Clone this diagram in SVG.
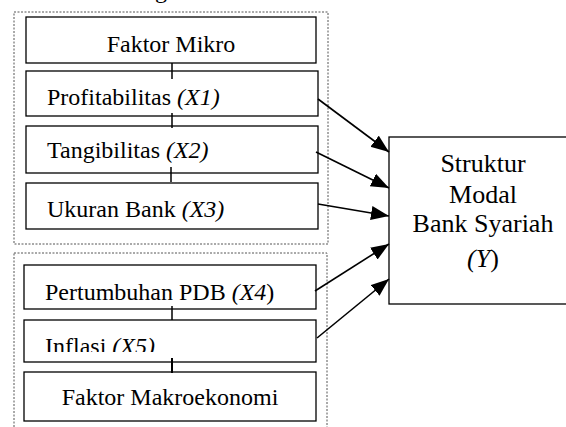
<svg xmlns="http://www.w3.org/2000/svg" width="566" height="427" viewBox="0 0 566 427">
<style>
.grp{fill:none;stroke:#555;stroke-width:1;stroke-dasharray:2,1.5}
.box{fill:#fff;stroke:#000;stroke-width:1.3}
.t{font-size:24px;fill:#000}
.ty{font-size:26px;fill:#000;text-anchor:middle}
.i{font-style:italic}
.tick{stroke:#000;stroke-width:1.5}
.arr{stroke:#000;stroke-width:1.6;fill:none;marker-end:url(#ah)}
</style>
<defs>
<marker id="ah" markerUnits="userSpaceOnUse" markerWidth="20" markerHeight="16" refX="18" refY="7" orient="auto">
<path d="M0,0 L18,7 L0,14 Z" fill="#000"/>
</marker>
<clipPath id="clipInf"><rect x="24" y="320" width="292" height="32"/></clipPath>
</defs>
<rect width="566" height="427" fill="#fff"/>
<g font-family="'Liberation Serif', 'Times New Roman', 'DejaVu Serif', serif">
<text class="t" x="155" y="-2.5">g</text>
<g id="mikro-group">
<rect class="grp" x="14" y="12" width="314" height="232"/>
</g>
<g id="makro-group">
<rect class="grp" x="14" y="253" width="313" height="180"/>
</g>
<g id="faktor-mikro">
<rect class="box" x="26" y="17" width="290" height="46"/>
<text class="t" x="171" y="52" text-anchor="middle">Faktor Mikro</text>
</g>
<g id="x1">
<rect class="box" x="26" y="71" width="292" height="45"/>
<text class="t" x="47" y="105">Profitabilitas <tspan class="i">(X1)</tspan></text>
</g>
<g id="x2">
<rect class="box" x="26" y="126" width="292" height="47"/>
<text class="t" x="47" y="158">Tangibilitas <tspan class="i">(X2)</tspan></text>
</g>
<g id="x3">
<rect class="box" x="26" y="183" width="292" height="46"/>
<text class="t" x="47" y="217">Ukuran Bank <tspan class="i">(X3)</tspan></text>
</g>
<g id="x4">
<rect class="box" x="24" y="265" width="292" height="44"/>
<text class="t" x="45" y="300">Pertumbuhan PDB <tspan class="i">(X4</tspan>)</text>
</g>
<g id="x5">
<rect class="box" x="24" y="320" width="292" height="42"/>
<text class="t" x="45" y="354" clip-path="url(#clipInf)">Inflasi <tspan class="i">(X5)</tspan></text>
</g>
<g id="faktor-makro">
<rect class="box" x="24" y="372" width="292" height="49"/>
<text class="t" x="170" y="405" text-anchor="middle">Faktor Makroekonomi</text>
</g>
<g id="y">
<rect class="box" x="389" y="137" width="190" height="167"/>
<text class="ty" x="483" y="172">Struktur</text>
<text class="ty" x="483" y="203">Modal</text>
<text class="ty" x="483" y="232">Bank Syariah</text>
<text class="ty" x="483" y="267"><tspan class="i">(Y</tspan>)</text>
</g>
</g>
<g id="connectors">
<line class="tick" x1="172" y1="63" x2="172" y2="79"/>
<line class="tick" x1="172" y1="113" x2="172" y2="128"/>
<line class="tick" x1="171" y1="167" x2="171" y2="182"/>
<line class="tick" x1="172" y1="306" x2="172" y2="320"/>
<line class="tick" x1="172" y1="358" x2="172" y2="373" style="stroke-width:2"/>
<line class="arr" x1="318" y1="99" x2="389" y2="152"/>
<line class="arr" x1="316" y1="152" x2="389" y2="188"/>
<line class="arr" x1="318" y1="204" x2="389" y2="216"/>
<line class="arr" x1="315" y1="291" x2="389" y2="244"/>
<line class="arr" x1="317" y1="338" x2="389" y2="279"/>
</g>
</svg>
